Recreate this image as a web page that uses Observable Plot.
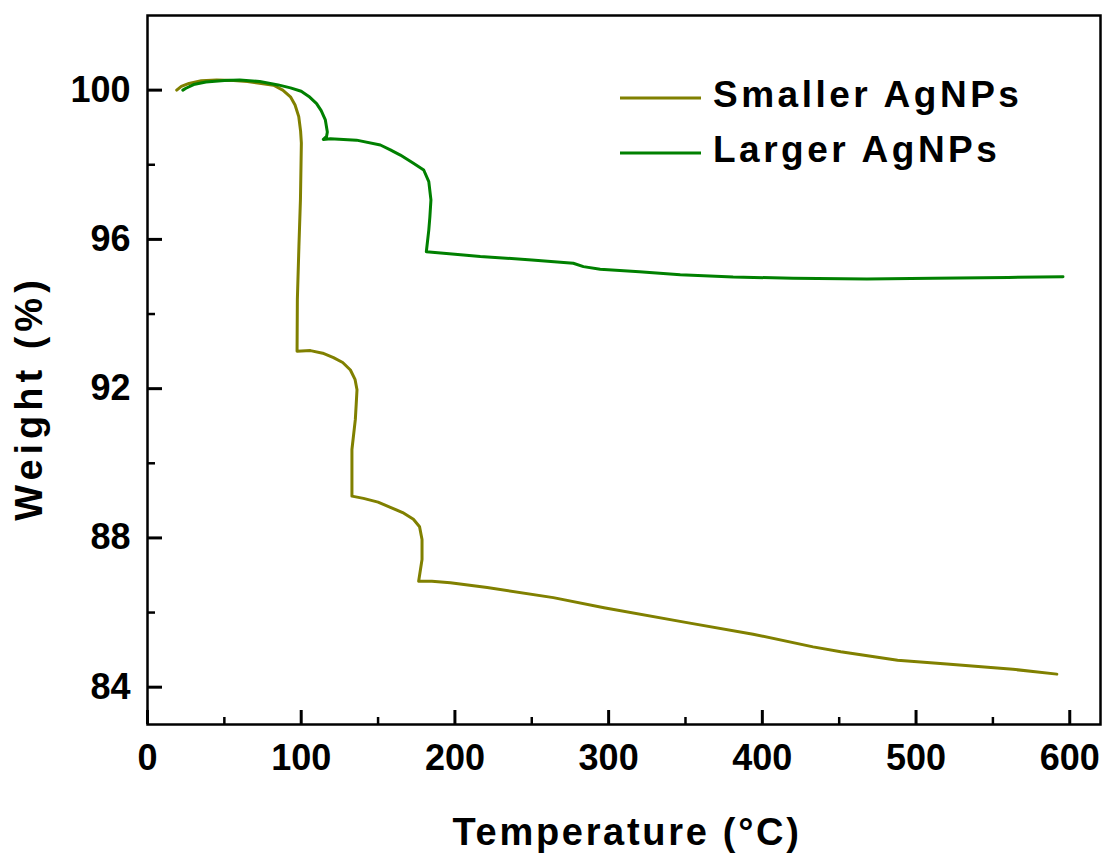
<!DOCTYPE html>
<html><head><meta charset="utf-8">
<script src="https://cdn.jsdelivr.net/npm/d3@7"></script>
<script src="https://cdn.jsdelivr.net/npm/@observablehq/plot@0.6"></script>
<style>body{margin:0;background:#fff}</style>
</head><body><div id="chart"></div>
<script>
// ---- data ----
const seriesNames = ["Smaller AgNPs", "Larger AgNPs"];
const seriesColors = ["#808000", "#008000"];

const smallerT = [19, 22, 27, 35, 45, 56, 65, 74, 82, 88, 93, 96, 98.4, 99.6, 100.1, 99.5, 98.5, 97.5, 97.3,
  106, 114, 121, 127, 132, 135, 136.3, 135.8, 135.2, 133, 133,
  140.5, 150, 158, 166, 173, 177, 178.6, 178.6, 176.4,
  185, 197, 221, 264, 297, 351, 394, 433, 451, 488, 520, 563, 591.6];
const smallerW = [100.0, 100.1, 100.18, 100.25, 100.27, 100.26, 100.23, 100.18, 100.13, 100.0, 99.82, 99.6, 99.29, 98.9, 98.58, 97.06, 95.8, 94.4, 93.0,
  93.02, 92.95, 92.83, 92.7, 92.5, 92.25, 91.97, 91.6, 91.17, 90.37, 89.12,
  89.06, 88.96, 88.82, 88.68, 88.5, 88.3, 87.96, 87.42, 86.84,
  86.84, 86.8, 86.67, 86.4, 86.13, 85.73, 85.42, 85.08, 84.95, 84.72, 84.62, 84.48, 84.35];

const largerT = [23, 25, 30, 38, 50, 60, 73, 85, 93, 100, 105, 110, 113, 115.7, 117, 116.5, 114.4,
  119, 136, 151.5, 158, 164.5, 173, 179.7, 183, 184.4, 183.7, 183, 181.4,
  200, 216.5, 250, 277, 283.6, 294.5, 320, 346.6, 381, 420, 468, 511, 560, 595.6];
const largerW = [100.0, 100.05, 100.15, 100.22, 100.26, 100.27, 100.23, 100.14, 100.06, 99.97, 99.83, 99.64, 99.45, 99.2, 98.88, 98.76, 98.68,
  98.70, 98.66, 98.53, 98.4, 98.26, 98.04, 97.86, 97.55, 97.06, 96.6, 96.25, 95.67,
  95.6, 95.54, 95.45, 95.36, 95.27, 95.2, 95.13, 95.05, 94.99, 94.96, 94.94, 94.96, 94.98, 95.0];

const xTicks = [0, 100, 200, 300, 400, 500, 600];
const xMinor = [50, 150, 250, 350, 450, 550];
const yTicks = [84, 88, 92, 96, 100];
const yMinor = [86, 90, 94, 98];
const xLabel = "Temperature (°C)";
const yLabel = "Weight (%)";

// ---- table for the library ----
const rows = [
  ...smallerT.map((t, i) => ({series: seriesNames[0], t, w: smallerW[i]})),
  ...largerT.map((t, i) => ({series: seriesNames[1], t, w: largerW[i]}))
];

const W = 1109, H = 859, mL = 147, mR = 9, mT = 15, mB = 135;
const fw = W - mL - mR, fh = H - mT - mB;
const font = "'Liberation Sans', Arial, Helvetica, sans-serif";

const chart = Plot.plot({
  width: W, height: H,
  marginLeft: mL, marginRight: mR, marginTop: mT, marginBottom: mB,
  style: {fontFamily: font, fontWeight: "bold", fontSize: "36px", color: "#000", background: "#fff"},
  x: {domain: [0, 620]},
  y: {domain: [83, 102]},
  color: {domain: seriesNames, range: seriesColors},
  marks: [
    Plot.axisX({ticks: xTicks, tickSize: 0, tickPadding: 20, fontSize: 36, fontWeight: "bold", label: null}),
    Plot.axisY({ticks: yTicks, tickSize: 0, tickPadding: 17, fontSize: 36, fontWeight: "bold", label: null}),
    Plot.tickX(xTicks, {x: d => d, insetTop: fh - 14, stroke: "#000", strokeWidth: 3}),
    Plot.tickX(xMinor, {x: d => d, insetTop: fh - 7, stroke: "#000", strokeWidth: 2.5}),
    Plot.tickY(yTicks, {y: d => d, insetRight: fw - 15, stroke: "#000", strokeWidth: 3}),
    Plot.tickY(yMinor, {y: d => d, insetRight: fw - 8, stroke: "#000", strokeWidth: 2.5}),
    Plot.line(rows, {x: "t", y: "w", z: "series", stroke: "series", strokeWidth: 3, strokeLinejoin: "round"}),
    Plot.frame({stroke: "#000", strokeWidth: 2.5}),
    Plot.text([yLabel], {frameAnchor: "left", textAnchor: "middle", lineAnchor: "middle", dx: -118, dy: 28, rotate: -90, fontSize: 38, fontWeight: "bold", fill: "#000"}),
    Plot.text([xLabel], {frameAnchor: "bottom", textAnchor: "middle", lineAnchor: "middle", dx: 3, dy: 108, fontSize: 38, fontWeight: "bold", fill: "#000"})
  ]
});

document.getElementById("chart").append(chart);

const svg = d3.select(chart);
svg.selectAll("g[aria-label='text'] text").each(function() {
  const t = d3.select(this);
  const s = t.text();
  t.attr("letter-spacing", s === yLabel ? "5px" : "2.7px");
});

// legend (line swatches, as in the reference)
const leg = svg.append("g").attr("font-family", font).attr("font-weight", "bold")
  .attr("font-size", 37).attr("text-anchor", "start");
seriesNames.forEach((name, i) => {
  const y = 98 + i * 55;
  leg.append("line").attr("x1", 620).attr("x2", 701).attr("y1", y).attr("y2", y)
    .attr("stroke", seriesColors[i]).attr("stroke-width", 3);
  leg.append("text").attr("x", 713).attr("y", y + 8.5).attr("letter-spacing", "3.5px")
    .attr("text-anchor", "start").attr("fill", "#000").text(name);
});
</script>
</body></html>
